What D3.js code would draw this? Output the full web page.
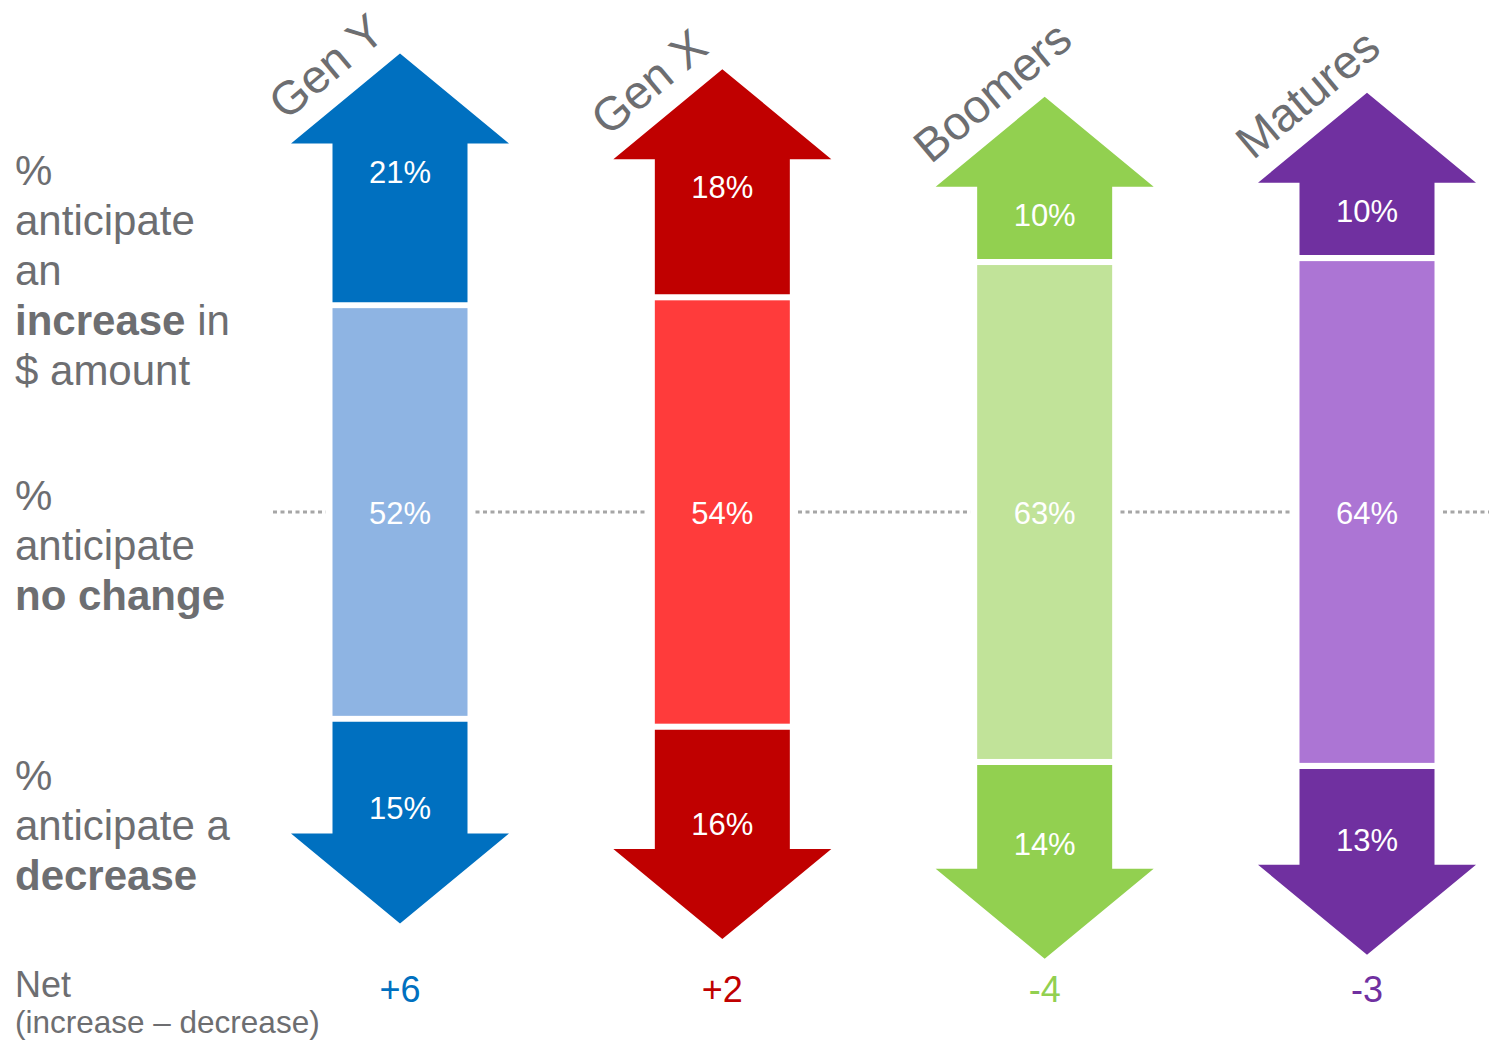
<!DOCTYPE html>
<html>
<head>
<meta charset="utf-8">
<script src="https://cdn.jsdelivr.net/npm/d3@7"></script>
<style>
  html, body { margin: 0; padding: 0; background: #fff; }
  svg { display: block; font-family: "Liberation Sans", Arial, Helvetica, sans-serif; }
</style>
</head>
<body>
<svg id="chart" width="1489" height="1040"></svg>
<script>
// Generations and their expectations for the $ amount
const generations = ["Gen Y", "Gen X", "Boomers", "Matures"];
const increasePct = [21, 18, 10, 10];
const noChangePct = [52, 54, 63, 64];
const decreasePct = [15, 16, 14, 13];
const netValues   = ["+6", "+2", "-4", "-3"];

const darkColors  = ["#0070C0", "#C00000", "#92D050", "#7030A0"];
const lightColors = ["#8EB4E3", "#FF3B3B", "#C1E399", "#AC75D4"];

const textGray = "#6D6E71";

const svg = d3.select("#chart");

// column centres
const x = d3.scalePoint().domain(generations).range([400, 1367]);

// vertical scale: percentage points measured from the centre of the "no change" bar
const y = d3.scaleLinear().domain([-60, 60]).range([512 + 60 * 7.84, 512 - 60 * 7.84]);

const shaftW = 135, headW = 218, headH = 90, gap = 6;

const rows = generations.map((g, i) => ({
  g, up: increasePct[i], mid: noChangePct[i], down: decreasePct[i],
  net: netValues[i], dark: darkColors[i], light: lightColors[i]
}));

// dotted "no change" reference line
svg.append("line")
  .attr("x1", 273).attr("x2", 1489)
  .attr("y1", y(0)).attr("y2", y(0))
  .attr("stroke", "#A6A6A6").attr("stroke-width", 3)
  .attr("stroke-dasharray", "4,3.5");

const col = svg.selectAll("g.col").data(rows).join("g").attr("class", "col");

// white padding that interrupts the dotted line around each middle bar
col.append("rect")
  .attr("x", d => x(d.g) - shaftW / 2 - 7)
  .attr("width", shaftW + 14)
  .attr("y", d => y(d.mid / 2))
  .attr("height", d => y(-d.mid / 2) - y(d.mid / 2))
  .attr("fill", "#fff");

const line = d3.line();

function upArrow(d) {
  const cx = x(d.g);
  const bottom = y(d.mid / 2) - gap;
  const top = y(d.mid / 2 + d.up);
  return line([
    [cx - shaftW / 2, bottom], [cx - shaftW / 2, top], [cx - headW / 2, top],
    [cx, top - headH], [cx + headW / 2, top], [cx + shaftW / 2, top],
    [cx + shaftW / 2, bottom]
  ]) + "Z";
}

function downArrow(d) {
  const cx = x(d.g);
  const top = y(-d.mid / 2) + gap;
  const bottom = y(-d.mid / 2 - d.down);
  return line([
    [cx - shaftW / 2, top], [cx - shaftW / 2, bottom], [cx - headW / 2, bottom],
    [cx, bottom + headH], [cx + headW / 2, bottom], [cx + shaftW / 2, bottom],
    [cx + shaftW / 2, top]
  ]) + "Z";
}

col.append("path").attr("d", upArrow).attr("fill", d => d.dark);
col.append("path").attr("d", downArrow).attr("fill", d => d.dark);

col.append("rect")
  .attr("x", d => x(d.g) - shaftW / 2)
  .attr("width", shaftW)
  .attr("y", d => y(d.mid / 2))
  .attr("height", d => y(-d.mid / 2) - y(d.mid / 2))
  .attr("fill", d => d.light);

// value labels
const valueFont = 31;
col.append("text")
  .attr("x", d => x(d.g))
  .attr("y", d => y(d.mid / 2 + d.up) + 39)
  .attr("text-anchor", "middle").attr("font-size", valueFont).attr("fill", "#fff")
  .text(d => d.up + "%");

col.append("text")
  .attr("x", d => x(d.g))
  .attr("y", d => y(0) + 12)
  .attr("text-anchor", "middle").attr("font-size", valueFont).attr("fill", "#fff")
  .text(d => d.mid + "%");

col.append("text")
  .attr("x", d => x(d.g))
  .attr("y", d => y(-d.mid / 2 - d.down) - 14)
  .attr("text-anchor", "middle").attr("font-size", valueFont).attr("fill", "#fff")
  .text(d => d.down + "%");

// rotated generation names above the arrow heads
col.append("text")
  .attr("transform", d => {
    const tipY = y(d.mid / 2 + d.up) - headH;
    return `translate(${x(d.g) - 114},${tipY + 68}) rotate(-40)`;
  })
  .attr("font-size", 47).attr("fill", textGray)
  .text(d => d.g);

// net values
col.append("text")
  .attr("x", d => x(d.g))
  .attr("y", 1002)
  .attr("text-anchor", "middle").attr("font-size", 36)
  .attr("fill", d => d.dark)
  .text(d => d.net);

// row descriptions on the left
const rowLabels = [
  { y0: 185, lines: [[["%", false]], [["anticipate", false]], [["an", false]], [["increase", true], [" in", false]], [["$ amount", false]]] },
  { y0: 510, lines: [[["%", false]], [["anticipate", false]], [["no change", true]]] },
  { y0: 790, lines: [[["%", false]], [["anticipate a", false]], [["decrease", true]]] }
];

rowLabels.forEach(block => {
  const t = svg.append("text").attr("font-size", 42).attr("fill", textGray);
  block.lines.forEach((parts, li) => {
    parts.forEach((p, pi) => {
      const ts = t.append("tspan").text(p[0]).attr("font-weight", p[1] ? "bold" : "normal");
      if (pi === 0) ts.attr("x", 15).attr("y", block.y0 + li * 50);
    });
  });
});

svg.append("text").attr("x", 15).attr("y", 997)
  .attr("font-size", 36).attr("fill", textGray).text("Net");
svg.append("text").attr("x", 15).attr("y", 1033)
  .attr("font-size", 31.5).attr("fill", textGray).text("(increase \u2013 decrease)");
</script>
</body>
</html>
